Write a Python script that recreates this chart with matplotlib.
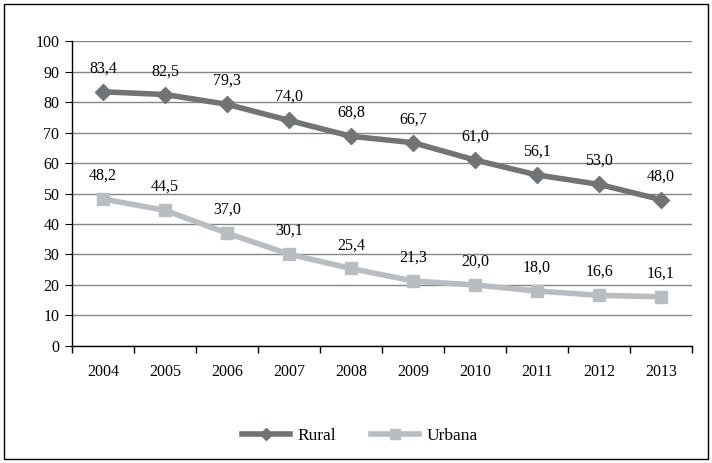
import numpy as np
from matplotlib import pyplot as plt
from matplotlib.patches import Rectangle

years = ["2004", "2005", "2006", "2007", "2008", "2009", "2010", "2011", "2012", "2013"]
rural = [83.4, 82.5, 79.3, 74.0, 68.8, 66.7, 61.0, 56.1, 53.0, 48.0]
urbana = [48.2, 44.5, 37.0, 30.1, 25.4, 21.3, 20.0, 18.0, 16.6, 16.1]

plt.rcParams['font.family'] = ['Liberation Serif', 'DejaVu Serif']

fig = plt.figure(figsize=(7.12, 4.63), dpi=100)
ax = fig.add_axes([0.101, 0.253, 0.871, 0.658])

x = np.arange(len(years))
ax.plot(x, rural, color="#707477", lw=4, marker="D", ms=8, label="Rural", zorder=3)
ax.plot(x, urbana, color="#b8bdc2", lw=4, marker="s", ms=9, label="Urbana", zorder=3)

for xi, v in zip(x, rural):
    ax.annotate(f"{v:.1f}".replace(".", ","), (xi, v), xytext=(0, 11), textcoords="offset points",
                ha="center", va="bottom", fontsize=11.5)
for xi, v in zip(x, urbana):
    ax.annotate(f"{v:.1f}".replace(".", ","), (xi, v), xytext=(0, 11), textcoords="offset points",
                ha="center", va="bottom", fontsize=11.5)

ax.set_xlim(-0.5, len(years) - 0.5)
ax.set_ylim(0, 100)
ax.set_yticks(np.arange(0, 101, 10))
ax.set_xticks(x)
ax.set_xticklabels(years)
ax.set_xticks(np.arange(-0.5, len(years)), minor=True)
ax.tick_params(axis="x", which="major", length=0, pad=13, labelsize=11.5)
ax.tick_params(axis="x", which="minor", length=5, direction="out", width=1)
ax.tick_params(axis="y", length=5, direction="out", labelsize=11.5, pad=4)
ax.grid(axis="y", color="#868686", lw=1)
ax.set_axisbelow(True)
for s in ["top", "right"]:
    ax.spines[s].set_visible(False)
ax.spines["left"].set_linewidth(1)
ax.spines["bottom"].set_linewidth(1)

fig.legend(loc="center", bbox_to_anchor=(0.505, 0.058), ncol=2, frameon=False,
           fontsize=12.5, handlelength=2.8, columnspacing=2.0, handletextpad=0.4,
           markerscale=0.8)

fig.patches.append(Rectangle((0.006, 0.008), 0.988, 0.984, transform=fig.transFigure,
                             fill=False, edgecolor="black", lw=1))

plt.savefig("out.png")
